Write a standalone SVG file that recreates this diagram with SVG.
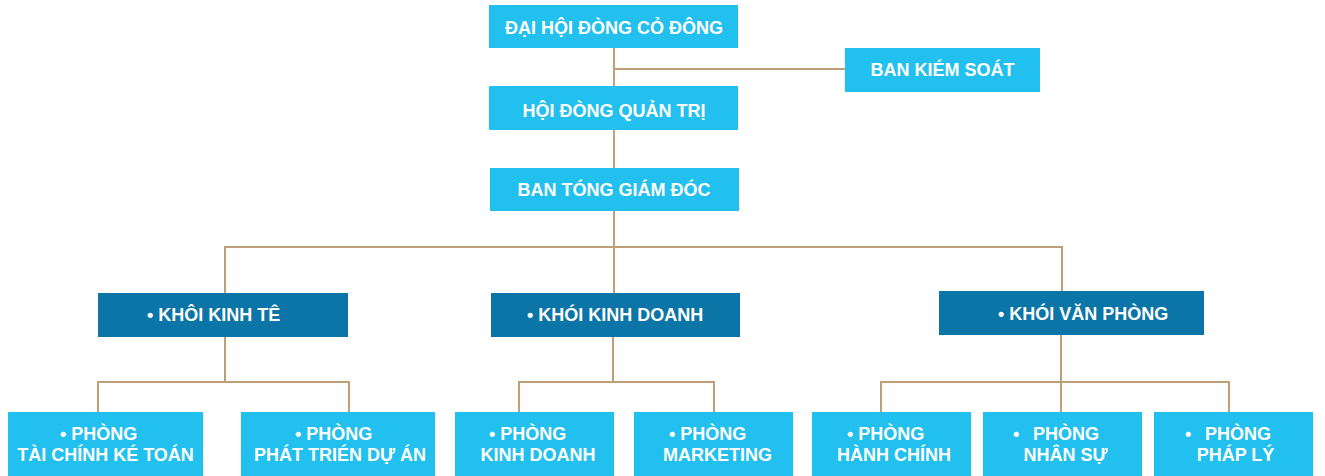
<svg xmlns="http://www.w3.org/2000/svg" width="1325" height="476" viewBox="0 0 1325 476">
<style>
.lb{fill:#21c0ef}
.db{fill:#0b75a8}
.t{fill:#ffffff;font-family:"Liberation Sans",Arial,sans-serif;font-weight:bold;font-size:18px}
.m{text-anchor:middle}
.c{stroke:#bf9f78;stroke-width:2;fill:none}
</style>
<rect width="1325" height="476" fill="#ffffff"/>
<g id="connectors" class="c">
<path d="M614 48V86M614 69H845"/>
<path d="M614 130V168"/>
<path d="M614 211V293M225 247H1062M225 246V293M1062 246V292"/>
<path d="M225 337V382M97 382H350M98 381V412M349 381V412"/>
<path d="M613 337V382M518 382H715M519 381V412M714 381V412"/>
<path d="M1061 335V382M880 382H1230M881 381V412M1061 381V412M1229 381V412"/>
</g>
<g id="dhdcd"><rect class="lb" x="489" y="5" width="249" height="43"/><text class="t m" x="614" y="34">ĐẠI HỘI ĐÒNG CỎ ĐÔNG</text></g>
<g id="bks"><rect class="lb" x="845" y="48" width="195" height="44"/><text class="t m" x="942.5" y="76">BAN KIÉM SOÁT</text></g>
<g id="hdqt"><rect class="lb" x="489" y="86" width="249" height="44"/><text class="t m" x="614" y="117">HỘI ĐÒNG QUẢN TRỊ</text></g>
<g id="btgd"><rect class="lb" x="490" y="168" width="249" height="43"/><text class="t m" x="614" y="196">BAN TÓNG GIÁM ĐÓC</text></g>
<g id="kkt"><rect class="db" x="98" y="293" width="250" height="44"/><text class="t" x="147" y="321">• KHÔI KINH TÊ</text></g>
<g id="kkd"><rect class="db" x="491" y="293" width="249" height="44"/><text class="t" x="527" y="321">• KHÓI KINH DOANH</text></g>
<g id="kvp"><rect class="db" x="939" y="291" width="265" height="44"/><text class="t" x="998" y="320">• KHÓI VĂN PHÒNG</text></g>
<g id="ptckt"><rect class="lb" x="8" y="412" width="195" height="64"/><text class="t" x="60" y="440">• PHÒNG</text><text class="t m" x="105.5" y="461">TÀI CHÍNH KÉ TOÁN</text></g>
<g id="pptda"><rect class="lb" x="241" y="412" width="194" height="64"/><text class="t" x="295" y="440">• PHÒNG</text><text class="t m" x="340" y="461">PHÁT TRIÉN DỰ ÁN</text></g>
<g id="pkd"><rect class="lb" x="455" y="412" width="159" height="64"/><text class="t" x="489" y="440">• PHÒNG</text><text class="t m" x="538" y="461">KINH DOANH</text></g>
<g id="pmkt"><rect class="lb" x="634" y="412" width="159" height="64"/><text class="t" x="669" y="440">• PHÒNG</text><text class="t m" x="717.5" y="461">MARKETING</text></g>
<g id="phc"><rect class="lb" x="812" y="412" width="159" height="64"/><text class="t" x="847" y="440">• PHÒNG</text><text class="t m" x="894" y="461">HÀNH CHÍNH</text></g>
<g id="pns"><rect class="lb" x="983" y="412" width="159" height="64"/><text class="t" x="1013" y="440">•<tspan x="1033">PHÒNG</tspan></text><text class="t m" x="1065.5" y="461">NHÂN SỰ</text></g>
<g id="ppl"><rect class="lb" x="1154" y="412" width="159" height="64"/><text class="t" x="1185" y="440">•<tspan x="1205">PHÒNG</tspan></text><text class="t m" x="1235.5" y="461">PHÁP LÝ</text></g>
</svg>
